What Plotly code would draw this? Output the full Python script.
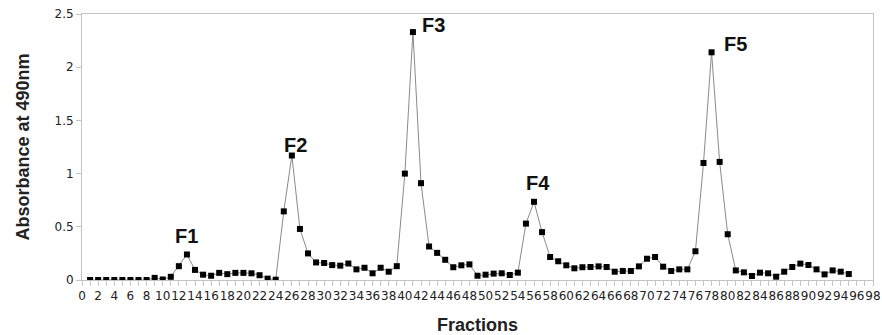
import plotly.graph_objects as go

fractions = list(range(1, 96))
absorbance = [
    0, 0, 0, 0, 0, 0, 0, 0, 0.02, 0.005,
    0.03, 0.13, 0.24, 0.095, 0.05, 0.04, 0.067, 0.055, 0.067, 0.067,
    0.063, 0.045, 0.013, 0.003, 0.645, 1.17, 0.48, 0.25, 0.165, 0.16,
    0.14, 0.135, 0.155, 0.10, 0.115, 0.063, 0.115, 0.078, 0.13, 1.0,
    2.33, 0.91, 0.315, 0.255, 0.19, 0.12, 0.138, 0.147, 0.04, 0.05,
    0.06, 0.063, 0.047, 0.069, 0.53, 0.735, 0.45, 0.216, 0.176, 0.138,
    0.11, 0.12, 0.122, 0.128, 0.122, 0.078, 0.085, 0.085, 0.128, 0.20,
    0.216, 0.125, 0.085, 0.10, 0.10, 0.27, 1.10, 2.14, 1.11, 0.43,
    0.09, 0.072, 0.038, 0.069, 0.063, 0.031, 0.078, 0.122, 0.154, 0.141,
    0.10, 0.053, 0.09, 0.078, 0.056,
]

peak_labels = ["F1", "F2", "F3", "F4", "F5"]
peak_x = [12.9, 26.5, 43.5, 56.45, 80.97]
peak_y = [0.418, 1.273, 2.394, 0.912, 2.216]

x_ticks = list(range(0, 99, 2))
y_ticks = [0, 0.5, 1, 1.5, 2, 2.5]
y_tick_text = ["0", "0.5", "1", "1.5", "2", "2.5"]

fig = go.Figure()
fig.add_trace(go.Scatter(
    x=fractions, y=absorbance, mode="lines+markers",
    line=dict(color="#8a8a8a", width=1),
    marker=dict(symbol="square", size=6, color="#000000"),
    showlegend=False, hoverinfo="x+y",
))

for t, xx, yy in zip(peak_labels, peak_x, peak_y):
    fig.add_annotation(x=xx, y=yy, text="<b>" + t + "</b>", showarrow=False,
                       xanchor="center", yanchor="middle",
                       font=dict(family="Arial, Liberation Sans", size=20, color="#111111"))

axis_gray = "#c4c4c4"
fig.update_layout(
    width=882, height=335,
    margin=dict(l=82, r=9, t=14, b=55),
    paper_bgcolor="white", plot_bgcolor="white",
    font=dict(family="Arial, Liberation Sans", color="#222222"),
)
fig.update_xaxes(
    range=[0, 98], tickvals=x_ticks, ticktext=[str(v) for v in x_ticks],
    tickangle=0, showgrid=False, zeroline=False,
    showline=True, linecolor=axis_gray, linewidth=1, mirror=True,
    ticks="outside", ticklen=5, tickcolor=axis_gray,
    minor=dict(dtick=1, tick0=0, ticks="outside", ticklen=5, tickcolor=axis_gray, showgrid=False),
    tickfont=dict(family="DejaVu Sans", size=12, color="#222222"),
    ticklabeloverflow="allow",
    title=dict(text="<b>Fractions</b>", font=dict(family="Arial, Liberation Sans", size=18, color="#222222"), standoff=17),
    automargin=False,
)
fig.update_yaxes(
    range=[0, 2.5], tickvals=y_ticks, ticktext=y_tick_text,
    showgrid=False, zeroline=False,
    showline=True, linecolor=axis_gray, linewidth=1, mirror=True,
    ticks="outside", ticklen=5, tickcolor=axis_gray,
    tickfont=dict(family="DejaVu Sans", size=12, color="#222222"),
    ticklabeloverflow="allow",
    title=dict(text="<b>Absorbance at 490nm</b>", font=dict(family="Arial, Liberation Sans", size=18, color="#222222"), standoff=20),
    automargin=False,
)

fig.write_html("out.html",
               config={"displayModeBar": False},
               post_script="document.body.style.margin='0';document.body.style.overflow='hidden';")
